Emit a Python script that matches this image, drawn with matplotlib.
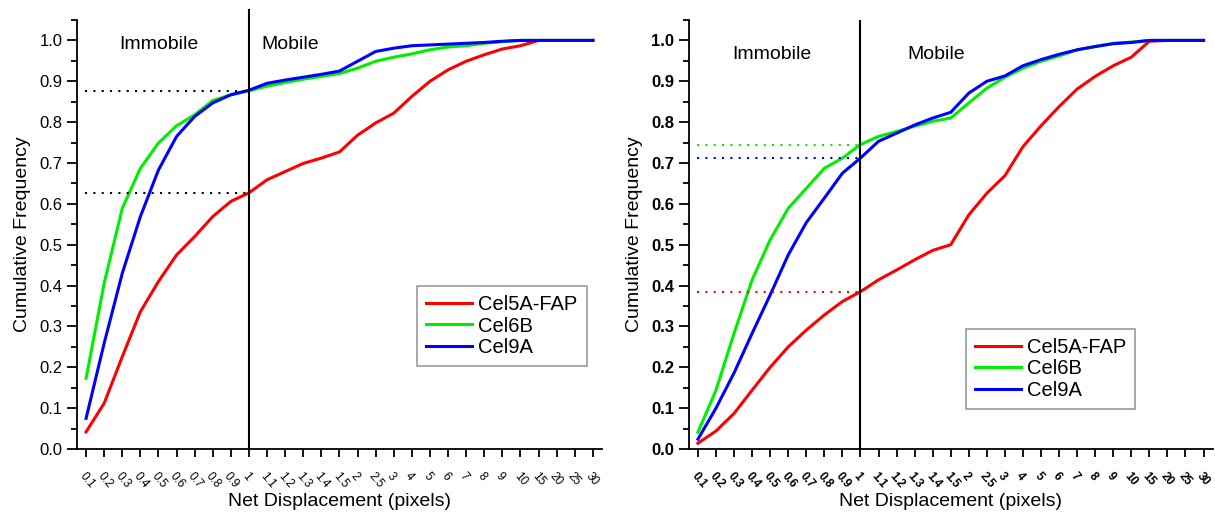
import matplotlib.pyplot as plt
from matplotlib.ticker import MultipleLocator

plt.rcParams['font.family'] = ['Liberation Sans', 'DejaVu Sans']

displacement = ['0.1', '0.2', '0.3', '0.4', '0.5', '0.6', '0.7', '0.8', '0.9', '1',
                '1.1', '1.2', '1.3', '1.4', '1.5', '2', '2.5', '3', '4', '5',
                '6', '7', '8', '9', '10', '15', '20', '25', '30']

# left panel
cel5a_left = [0.042, 0.112, 0.226, 0.336, 0.41, 0.475, 0.52, 0.569, 0.606, 0.627,
              0.659, 0.679, 0.699, 0.712, 0.727, 0.768, 0.798, 0.822, 0.863, 0.90,
              0.928, 0.949, 0.965, 0.979, 0.987, 1.0, 1.0, 1.0, 1.0]
cel6b_left = [0.173, 0.406, 0.589, 0.687, 0.749, 0.791, 0.818, 0.853, 0.867, 0.877,
              0.888, 0.897, 0.905, 0.912, 0.919, 0.932, 0.949, 0.959, 0.967, 0.977,
              0.984, 0.987, 0.993, 0.997, 1.0, 1.0, 1.0, 1.0, 1.0]
cel9a_left = [0.075, 0.259, 0.43, 0.569, 0.683, 0.765, 0.814, 0.847, 0.867, 0.878,
              0.895, 0.903, 0.91, 0.917, 0.925, 0.949, 0.973, 0.981, 0.987, 0.989,
              0.991, 0.993, 0.995, 0.998, 1.0, 1.0, 1.0, 1.0, 1.0]

# right panel
cel5a_right = [0.014, 0.044, 0.087, 0.144, 0.20, 0.25, 0.291, 0.328, 0.361, 0.385,
               0.414, 0.438, 0.463, 0.486, 0.50, 0.573, 0.626, 0.669, 0.74, 0.791,
               0.838, 0.881, 0.912, 0.938, 0.959, 0.998, 1.0, 1.0, 1.0]
cel6b_right = [0.041, 0.144, 0.283, 0.414, 0.512, 0.589, 0.638, 0.687, 0.712, 0.745,
               0.765, 0.777, 0.79, 0.802, 0.81, 0.847, 0.883, 0.91, 0.932, 0.949,
               0.962, 0.977, 0.985, 0.993, 0.996, 1.0, 1.0, 1.0, 1.0]
cel9a_right = [0.024, 0.10, 0.186, 0.283, 0.377, 0.475, 0.554, 0.614, 0.675, 0.712,
               0.753, 0.773, 0.793, 0.81, 0.824, 0.871, 0.90, 0.913, 0.938, 0.953,
               0.966, 0.977, 0.985, 0.992, 0.995, 1.0, 1.0, 1.0, 1.0]

names = ['Cel5A-FAP', 'Cel6B', 'Cel9A']
colors = ['#ff0000', '#00ee00', '#0000ff']

left_cut = [0.627, 0.877]
right_cut = [0.385, 0.745, 0.712]

fig = plt.figure(figsize=(12.15, 5.14), dpi=100)
ax1 = fig.add_axes([0.0634, 0.1265, 0.432, 0.8346])
ax2 = fig.add_axes([0.567, 0.1265, 0.431, 0.8346])

x = list(range(len(displacement)))
i_one = displacement.index('1')


def style(ax, bold):
    for s in ['top', 'right']:
        ax.spines[s].set_visible(False)
    for s in ['left', 'bottom']:
        ax.spines[s].set_linewidth(1.3)
    ax.set_xlim(-0.5, len(displacement) - 0.5)
    ax.set_ylim(0, 1.05)
    ax.yaxis.set_major_locator(MultipleLocator(0.1))
    ax.yaxis.set_minor_locator(MultipleLocator(0.05))
    ax.set_yticks([i / 10 for i in range(11)])
    ax.set_yticklabels(['%.1f' % (i / 10) for i in range(11)], fontsize=12,
                       fontweight='bold' if bold else 'normal')
    ax.tick_params(axis='y', which='major', direction='out', length=7, width=1.3)
    ax.tick_params(axis='y', which='minor', direction='out', length=4, width=1.3)
    ax.set_xticks(x)
    ax.set_xticklabels(displacement, fontsize=8.5, rotation=-50, ha='left', va='top',
                       rotation_mode='anchor',
                       fontweight='bold' if bold else 'normal')
    ax.tick_params(axis='x', direction='out', length=6, width=1.3, pad=9)
    ax.set_xlabel('Net Displacement (pixels)', fontsize=14, labelpad=2)
    ax.set_ylabel('Cumulative Frequency', fontsize=14, labelpad=6)


# left panel
style(ax1, False)
for y, name, c in zip([cel5a_left, cel6b_left, cel9a_left], names, colors):
    ax1.plot(x, y, color=c, lw=2.2, label=name)
for v in left_cut:
    ax1.plot([-0.05, i_one], [v, v], color='black', ls=(0, (1, 3)), lw=1.5)
ax1.plot([i_one, i_one], [0, 1.075], color='black', lw=1.5, clip_on=False)
ax1.text(4, 0.99, 'Immobile', fontsize=14, ha='center', va='center')
ax1.text(11.3, 0.99, 'Mobile', fontsize=14, ha='center', va='center')
leg = ax1.legend(loc='lower right', bbox_to_anchor=(0.99, 0.17), fontsize=14.5,
                 handlelength=2.3, handletextpad=0.3, labelspacing=0.12,
                 fancybox=False, edgecolor='#808080', borderpad=0.45)
leg.get_frame().set_linewidth(1.2)

# right panel
style(ax2, True)
for y, name, c in zip([cel5a_right, cel6b_right, cel9a_right], names, colors):
    ax2.plot(x, y, color=c, lw=2.2, label=name)
for v, c in zip(right_cut, colors):
    ax2.plot([-0.05, i_one], [v, v], color=c, ls=(0, (1, 3)), lw=1.5)
ax2.axvline(i_one, color='black', lw=1.5)
ax2.text(4.1, 0.965, 'Immobile', fontsize=14, ha='center', va='center')
ax2.text(13.2, 0.965, 'Mobile', fontsize=14, ha='center', va='center')
leg = ax2.legend(loc='lower right', bbox_to_anchor=(0.872, 0.07), fontsize=14.5,
                 handlelength=2.3, handletextpad=0.3, labelspacing=0.12,
                 fancybox=False, edgecolor='#808080', borderpad=0.45)
leg.get_frame().set_linewidth(1.2)

fig.savefig('out.png', dpi=100)
